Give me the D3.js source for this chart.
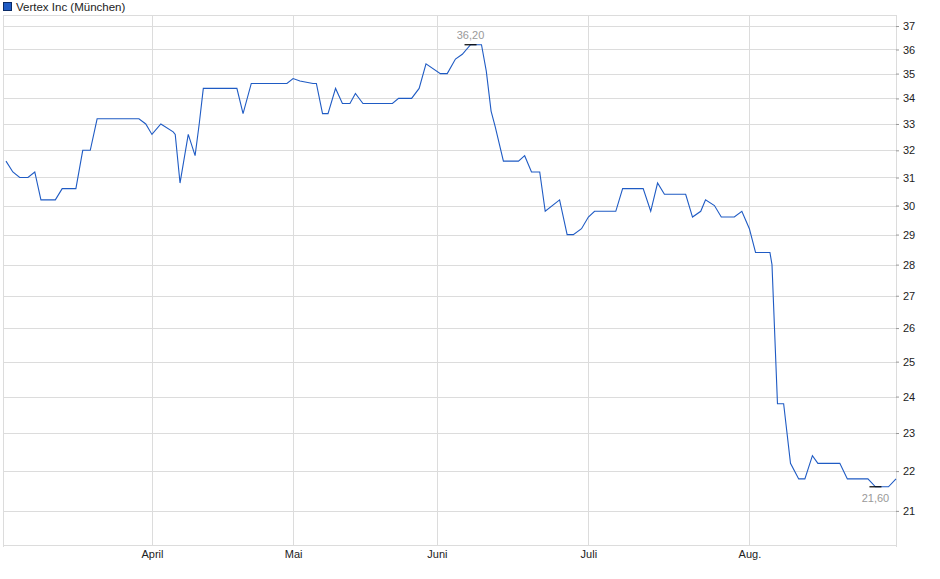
<!DOCTYPE html>
<html><head><meta charset="utf-8">
<script src="https://cdn.jsdelivr.net/npm/d3@7/dist/d3.min.js"></script>
<style>body{margin:0;background:#fff}svg{display:block;font-family:"Liberation Sans",Arial,sans-serif}</style>
</head><body><svg id="c" width="940" height="579"></svg>
<script>
// session index (trading-day position) and price
const sessions = [0,1,2,3.2,4.2,5.1,7.2,8.2,10.2,11.2,12.3,13.3,19.4,20.4,21.3,22.6,24.4,24.7,25.4,26.6,27.6,28.2,28.8,33.7,34.6,35.8,41.0,41.9,42.9,44.8,45.3,46.2,47.0,48.1,49.1,50.2,51.0,52.1,56.4,57.3,59.2,60.3,61.3,63.4,64.4,65.6,66.6,67.8,68.7,69.4,70.1,70.8,71.4,72.6,74.8,75.7,76.7,77.9,78.7,80.8,81.9,82.8,84.0,85.0,85.9,89.0,90.0,93.0,94.1,95.1,96.1,99.2,100.2,101.4,102.1,103.4,104.4,106.3,107.4,108.5,109.4,111.5,111.8,112.6,113.5,114.5,115.7,116.6,117.7,118.5,121.7,122.8,125.8,126.9,128.8,129.9];
const prices   = [31.6,31.2,31.0,31.0,31.2,30.2,30.2,30.6,30.6,32.0,32.0,33.2,33.2,33.0,32.6,33.0,32.7,32.6,30.8,32.6,31.8,33.0,34.4,34.4,33.4,34.6,34.6,34.8,34.7,34.6,34.6,33.4,33.4,34.4,33.8,33.8,34.2,33.8,33.8,34.0,34.0,34.4,35.4,35.0,35.0,35.6,35.8,36.2,36.2,36.2,35.1,33.5,32.9,31.6,31.6,31.8,31.2,31.2,29.8,30.2,29.0,29.0,29.2,29.6,29.8,29.8,30.6,30.6,29.8,30.8,30.4,30.4,29.6,29.8,30.2,30.0,29.6,29.6,29.8,29.2,28.4,28.4,28.0,23.8,23.8,22.2,21.8,21.8,22.4,22.2,22.2,21.8,21.8,21.6,21.6,21.8];
const yTicks = [21,22,23,24,25,26,27,28,29,30,31,32,33,34,35,36,37];
const monthLabels = ["April","Mai","Juni","Juli","Aug."];
const monthSessions = [21.3,41.9,62.9,85.0,108.5];
const seriesName = "Vertex Inc (München)";

const svg = d3.select("#c");
const L=6, R=896, T=15, B=545;
const x = d3.scaleLinear().domain([0,129.9]).range([L,R]);
const y = d3.scaleLog().domain([20.18,37.48]).range([B,T]);
const grid="#dcdcdc";

svg.append("g").selectAll("line").data(yTicks).join("line")
  .attr("x1",3).attr("x2",R).attr("y1",d=>Math.round(y(d))+.5).attr("y2",d=>Math.round(y(d))+.5)
  .attr("stroke",grid);
svg.append("g").selectAll("line").data(monthSessions).join("line")
  .attr("x1",d=>Math.round(x(d))+.5).attr("x2",d=>Math.round(x(d))+.5).attr("y1",T).attr("y2",B)
  .attr("stroke",grid);
// frame
svg.append("line").attr("x1",3.5).attr("x2",3.5).attr("y1",T).attr("y2",B+2).attr("stroke",grid);
svg.append("line").attr("x1",R+.5).attr("x2",R+.5).attr("y1",T).attr("y2",B+2).attr("stroke",grid);
svg.append("line").attr("x1",3).attr("x2",R).attr("y1",T+.5).attr("y2",T+.5).attr("stroke",grid);
svg.append("line").attr("x1",3).attr("x2",R).attr("y1",B+.5).attr("y2",B+.5).attr("stroke",grid);

// axes
const ya = d3.axisRight(y).tickValues(yTicks).tickFormat(d3.format("d")).tickSize(3);
const yg = svg.append("g").attr("transform",`translate(${R},0)`).call(ya);
yg.select(".domain").remove();
yg.selectAll("line").attr("stroke","#999");
yg.selectAll("text").attr("font-size",11).attr("fill","#222").attr("x",7);
const xa = d3.axisBottom(x).tickValues(monthSessions).tickFormat((d,i)=>monthLabels[i]).tickSize(0);
const xg = svg.append("g").attr("transform",`translate(0,${B})`).call(xa);
xg.select(".domain").remove();
xg.selectAll("text").attr("font-size",11).attr("fill","#222").attr("dy","0.9em");

// line
const pts = sessions.map((s,i)=>[s,prices[i]]);
svg.append("path").datum(pts).attr("fill","none").attr("stroke","#1f5bc4").attr("stroke-width",1.1)
  .attr("d",d3.line().x(d=>x(d[0])).y(d=>y(d[1])));

// max / min markers
const iMax = d3.maxIndex(prices), iMin = d3.minIndex(prices);
const mark=(i,dy,txt)=>{
  const cx=x(sessions[i]), cy=y(prices[i]);
  svg.append("line").attr("x1",cx-6).attr("x2",cx+6).attr("y1",cy).attr("y2",cy).attr("stroke","#000").attr("stroke-width",1.2);
  svg.append("text").attr("x",cx).attr("y",cy+dy).attr("text-anchor","middle").attr("font-size",11).attr("fill","#999").text(txt);
};
mark(iMax,-6,"36,20");
mark(iMin,15,"21,60");

// legend
svg.append("rect").attr("x",3.5).attr("y",2.5).attr("width",8).attr("height",8).attr("fill","#1f5bc4").attr("stroke","#0a2a66");
svg.append("text").attr("x",16).attr("y",10.5).attr("font-size",11.5).attr("fill","#222").text(seriesName);
</script></body></html>
